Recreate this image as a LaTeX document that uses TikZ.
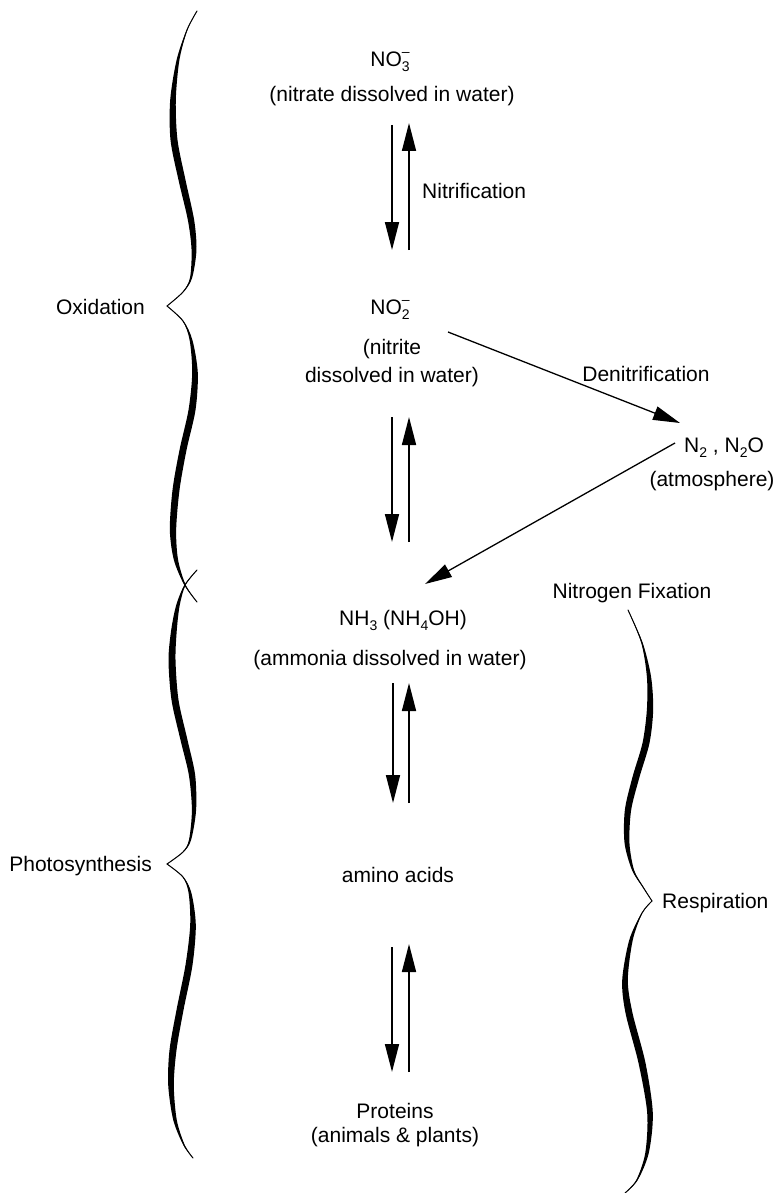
\documentclass[tikz,border=0pt]{standalone}
\usepackage{fontspec}
\setmainfont{Liberation Sans}
\usetikzlibrary{arrows.meta}
\newcommand\subsz{\fontsize{14}{14}\selectfont}
\newcommand\lowsub[1]{\raisebox{-5pt}{\subsz #1}}
\newcommand\ionlabel[2]{\rlap{\raisebox{-5pt}{\subsz #1}}\raisebox{10pt}{\subsz #2}}
\begin{document}
\begin{tikzpicture}[x=1pt,y=-1pt,
  every node/.style={inner sep=0pt, font=\fontsize{21}{25}\selectfont},
  lbl/.style={anchor=base},
  arr/.style={line width=1.6pt, -{Triangle[length=28pt,width=14pt]}},
  darr/.style={line width=1.3pt, -{Triangle[length=27pt,width=14pt]}},
  bline/.style={line width=1pt, line join=round, line cap=round}]
\fill[white] (0,0) rectangle (778,1193);
\useasboundingbox (0,0) rectangle (778,1193);

% texts
\node[lbl] (no3) at (390,67) {NO\ionlabel{3}{–}};
\node[lbl] (nitrate) at (392,102) {(nitrate dissolved in water)};
\node[lbl,anchor=base west] (nitrif) at (422,199) {Nitrification};
\node[lbl] (no2) at (390,314) {NO\ionlabel{2}{–}};
\node[lbl] (nitrite) at (392,354) {(nitrite};
\node[lbl] (nitrite2) at (392,382) {dissolved in water)};
\node[lbl] (denitr) at (646,381) {Denitrification};
\node[lbl,anchor=base west] (n2) at (684,452) {N\lowsub{2} , N\lowsub{2}O};
\node[lbl] (atm) at (712,486) {(atmosphere)};
\node[lbl] (nh3) at (403,625) {NH\lowsub{3} (NH\lowsub{4}OH)};
\node[lbl] (ammonia) at (390,665) {(ammonia dissolved in water)};
\node[lbl] (amino) at (398,882) {amino acids};
\node[lbl] (proteins) at (395,1118) {Proteins};
\node[lbl] (animals) at (395,1142) {(animals \& plants)};
\node[lbl,anchor=base east] (oxid) at (145,314) {Oxidation};
\node[lbl,anchor=base east] (photo) at (152,871) {Photosynthesis};
\node[lbl,anchor=base west] (resp) at (662,908) {Respiration};
\node[lbl] (nfix) at (632,598) {Nitrogen Fixation};

% arrow end points
\coordinate (d1s) at (392,125); \coordinate (d1e) at (392,250);
\coordinate (u1s) at (409,250); \coordinate (u1e) at (409,123);
\coordinate (d2s) at (392,417); \coordinate (d2e) at (392,542);
\coordinate (u2s) at (409,542); \coordinate (u2e) at (409,417);
\coordinate (d3s) at (393,683); \coordinate (d3e) at (393,803);
\coordinate (u3s) at (409,803); \coordinate (u3e) at (409,683);
\coordinate (d4s) at (392,947); \coordinate (d4e) at (392,1072);
\coordinate (u4s) at (409,1072); \coordinate (u4e) at (409,944);
\coordinate (dns) at (448,332); \coordinate (dne) at (680,423);
\coordinate (fxs) at (675,443); \coordinate (fxe) at (425,584);

\draw[arr] (d1s) -- (d1e);
\draw[arr] (u1s) -- (u1e);
\draw[arr] (d2s) -- (d2e);
\draw[arr] (u2s) -- (u2e);
\draw[arr] (d3s) -- (d3e);
\draw[arr] (u3s) -- (u3e);
\draw[arr] (d4s) -- (d4e);
\draw[arr] (u4s) -- (u4e);
\draw[darr] (dns) -- (dne);
\draw[darr] (fxs) -- (fxe);

% brace: Oxidation, upper half
\fill plot[smooth] coordinates {(197,11) (186.65,30) (176.6,60) (170.2,100) (170.5,140) (178.5,180) (187.85,220) (191.55,250) (189.95,278) (182.65,292) (167,306)}
  -- plot[smooth] coordinates {(167,306) (183.35,292) (192.05,278) (196.45,250) (194.15,220) (185.5,180) (177.5,140) (175.8,100) (179.4,60) (187.35,30) (197,11)} -- cycle;
\draw[bline] plot[smooth] coordinates {(197,11) (187,30) (178,60) (173,100) (174,140) (182,180) (191,220) (194,250) (191,278) (183,292) (167,306)};
% Oxidation, lower half
\fill plot[smooth] coordinates {(167,306) (182.65,321) (189.6,340) (192.2,373) (188.5,410) (179.5,450) (172.5,490) (169.85,530) (173.9,560) (184.3,585) (197,602)}
  -- plot[smooth] coordinates {(197,602) (185.7,585) (178.1,560) (176.15,530) (179.5,490) (186.5,450) (195.5,410) (197.8,373) (192.4,340) (183.35,321) (167,306)} -- cycle;
\draw[bline] plot[smooth] coordinates {(167,306) (183,321) (191,340) (195,373) (192,410) (183,450) (176,490) (173,530) (176,560) (185,585) (197,602)};

% brace: Photosynthesis, upper half
\fill plot[smooth] coordinates {(197,570) (184.45,585) (176.25,605) (171.2,630) (168.5,660) (171.5,700) (180.5,740) (188.85,775) (191.9,810) (188.95,840) (182.65,852) (167,864)}
  -- plot[smooth] coordinates {(167,864) (183.35,852) (191.05,840) (196.1,810) (195.15,775) (187.5,740) (178.5,700) (175.5,660) (176.8,630) (179.75,605) (185.55,585) (197,570)} -- cycle;
\draw[bline] plot[smooth] coordinates {(197,570) (185,585) (178,605) (174,630) (172,660) (175,700) (184,740) (192,775) (194,810) (190,840) (183,852) (167,864)};
% Photosynthesis, lower half
\fill plot[smooth] coordinates {(167,864) (182.65,877) (188.6,893) (190.2,925) (185.5,965) (176.5,1010) (169.5,1050) (168.2,1085) (173.25,1120) (183.3,1145) (193,1158)}
  -- plot[smooth] coordinates {(193,1158) (184.7,1145) (176.75,1120) (173.8,1085) (176.5,1050) (183.5,1010) (192.5,965) (195.8,925) (191.4,893) (183.35,877) (167,864)} -- cycle;
\draw[bline] plot[smooth] coordinates {(167,864) (183,877) (190,893) (193,925) (189,965) (180,1010) (173,1050) (171,1085) (175,1120) (184,1145) (193,1158)};

% brace: Respiration, upper half
\fill plot[smooth] coordinates {(628,610) (641.3,643) (646.9,677) (646.85,710) (642.5,743) (632.5,777) (624.85,810) (624.55,843) (631.95,870) (642.65,887) (652,901)}
  -- plot[smooth] coordinates {(652,901) (643.35,887) (634.05,870) (629.45,843) (631.15,810) (639.5,777) (649.5,743) (653.15,710) (651.1,677) (642.7,643) (628,610)} -- cycle;
\draw[bline] plot[smooth] coordinates {(628,610) (642,643) (649,677) (650,710) (646,743) (636,777) (628,810) (627,843) (633,870) (643,887) (652,901)};
% Respiration, lower half
\fill plot[smooth] coordinates {(652,901) (641.65,913) (629.25,940) (622.2,980) (625.5,1013) (638.5,1063) (647.2,1113) (645.25,1153) (636.3,1180) (625,1193)}
  -- plot[smooth] coordinates {(625,1193) (637.7,1180) (648.75,1153) (652.8,1113) (645.5,1063) (632.5,1013) (627.8,980) (632.75,940) (642.35,913) (652,901)} -- cycle;
\draw[bline] plot[smooth] coordinates {(652,901) (642,913) (631,940) (625,980) (629,1013) (642,1063) (650,1113) (647,1153) (637,1180) (625,1193)};
\end{tikzpicture}
\end{document}
